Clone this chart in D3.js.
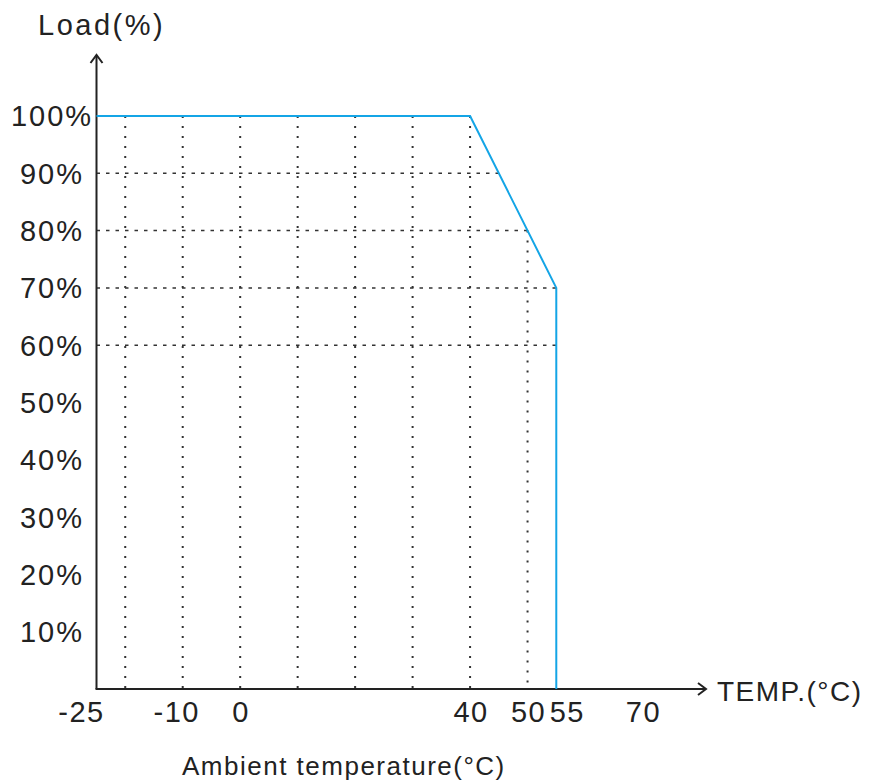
<!DOCTYPE html>
<html>
<head>
<meta charset="utf-8">
<script src="https://cdn.jsdelivr.net/npm/d3@7"></script>
<style>
  html, body { margin: 0; padding: 0; background: #fff; }
  svg { display: block; font-family: "Liberation Sans", Arial, sans-serif; }
</style>
</head>
<body>
<div id="chart"></div>
<script>
// derating curve: ambient temperature (°C) vs load (%)
const curveTemp = [-25, 40, 55, 55];
const curveLoad = [100, 100, 70, 0];

const xTickValues = [-25, -10, 0, 40, 50, 55, 70];
const yTickValues = [10, 20, 30, 40, 50, 60, 70, 80, 90, 100];
const vGridTemps = [-20, -10, 0, 10, 20, 30, 40, 50];
const hGridLoads = [90, 80, 70, 60];

const width = 869, height = 783;
const origin = { x: 96.5, y: 689 };

const svg = d3.select("#chart").append("svg")
    .attr("width", width)
    .attr("height", height);

const x = d3.scaleLinear().domain([-25, 70]).range([origin.x, 642.5]);
const y = d3.scaleLinear().domain([0, 100]).range([origin.y, 116]);

// load available at a given temperature (along the curve)
function loadAt(t) {
    if (t <= 40) return 100;
    if (t <= 55) return 100 - (t - 40) * 2;
    return 0;
}
// temperature where the curve reaches a given load
function tempAt(l) {
    if (l >= 100) return 40;
    return 40 + (100 - l) / 2;
}

// dotted grid, clipped by the curve
svg.append("g").selectAll("line")
    .data(vGridTemps)
    .join("line")
    .attr("x1", d => x(d)).attr("x2", d => x(d))
    .attr("y1", d => y(loadAt(d))).attr("y2", origin.y)
    .attr("stroke", "#333")
    .attr("stroke-width", 2)
    .attr("stroke-dasharray", "2,8");

svg.append("g").selectAll("line")
    .data(hGridLoads)
    .join("line")
    .attr("x1", origin.x).attr("x2", d => x(Math.min(55, tempAt(d))))
    .attr("y1", d => y(d)).attr("y2", d => y(d))
    .attr("stroke", "#333")
    .attr("stroke-width", 1.5)
    .attr("stroke-dasharray", "3.5,6");

// axes with open arrowheads
const axisColor = "#222";
svg.append("line")
    .attr("x1", origin.x).attr("x2", origin.x)
    .attr("y1", origin.y).attr("y2", 55)
    .attr("stroke", axisColor).attr("stroke-width", 2);
svg.append("path")
    .attr("d", `M${origin.x - 6},${63} L${origin.x},${55} L${origin.x + 6},${63}`)
    .attr("fill", "none").attr("stroke", axisColor).attr("stroke-width", 2);

svg.append("line")
    .attr("x1", origin.x - 1).attr("x2", 706)
    .attr("y1", origin.y).attr("y2", origin.y)
    .attr("stroke", axisColor).attr("stroke-width", 2);
svg.append("path")
    .attr("d", `M${698},${origin.y - 6} L${706},${origin.y} L${698},${origin.y + 6}`)
    .attr("fill", "none").attr("stroke", axisColor).attr("stroke-width", 2);

// curve
const points = curveTemp.map((t, i) => [t, curveLoad[i]]);
svg.append("path")
    .datum(points)
    .attr("d", d3.line().x(d => x(d[0])).y(d => y(d[1])))
    .attr("fill", "none")
    .attr("stroke", "#14a5e6")
    .attr("stroke-width", 2);

// y tick labels
svg.append("g").selectAll("text")
    .data(yTickValues)
    .join("text")
    .attr("x", 52)
    .attr("y", d => y(d))
    .attr("dy", "0.36em")
    .attr("text-anchor", "middle")
    .attr("font-size", 29)
    .attr("letter-spacing", 2)
    .attr("fill", "#222")
    .text(d => d + "%");

// x tick labels (a couple nudged to avoid crowding, as in the original)
const xLabelNudge = { "-25": -16, "-10": -7, "55": 10 };
svg.append("g").selectAll("text")
    .data(xTickValues)
    .join("text")
    .attr("x", d => x(d) + 1 + (xLabelNudge[d] || 0))
    .attr("y", 722)
    .attr("text-anchor", "middle")
    .attr("font-size", 29)
    .attr("letter-spacing", 1.5)
    .attr("fill", "#222")
    .text(d => d);

// axis titles
svg.append("text")
    .attr("x", 38).attr("y", 35)
    .attr("font-size", 29)
    .attr("letter-spacing", 2.5)
    .attr("fill", "#222")
    .text("Load(%)");

svg.append("text")
    .attr("x", 717).attr("y", 701)
    .attr("font-size", 28)
    .attr("letter-spacing", 1.5)
    .attr("fill", "#222")
    .text("TEMP.(°C)");

svg.append("text")
    .attr("x", 182).attr("y", 775)
    .attr("font-size", 26)
    .attr("letter-spacing", 1.5)
    .attr("fill", "#222")
    .text("Ambient temperature(°C)");
</script>
</body>
</html>
